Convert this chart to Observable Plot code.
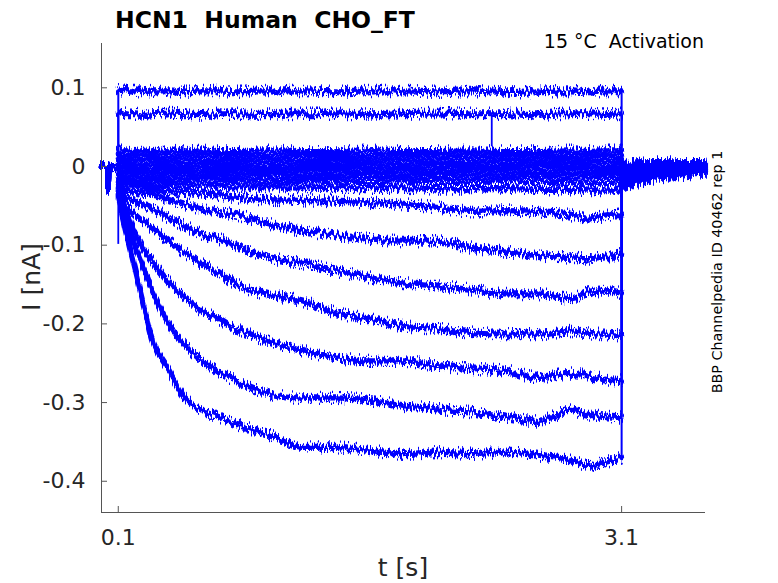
<!DOCTYPE html>
<html>
<head>
<meta charset="utf-8">
<script src="https://cdn.jsdelivr.net/npm/d3@7"></script>
<script src="https://cdn.jsdelivr.net/npm/@observablehq/plot@0.6"></script>
<style>
  html, body { margin: 0; padding: 0; background: #fff; }
  #chart svg { display: block; }
</style>
</head>
<body>
<div id="chart"></div>
<script>
// ---- axes / labels ----
const titleText = "HCN1  Human  CHO_FT";
const cornerText = "15 °C  Activation";
const sideText = "BBP Channelpedia ID 40462 rep 1";
const xLabel = "t [s]";
const yLabel = "I [nA]";
const xTicks = [0.1, 3.1];
const yTicks = [0.1, 0, -0.1, -0.2, -0.3, -0.4];
const xDomain = [0, 3.6];
const yDomain = [-0.4397, 0.1563];

// ---- time bases (s) ----
const preT  = [0, 0.02, 0.036, 0.04, 0.044, 0.07, 0.0999];
const preI  = [0.001, 0.0, -0.001, -0.03, -0.003, 0.0, -0.001];
const stepT = [0.1001, 0.15, 0.2, 0.25, 0.3, 0.4, 0.5, 0.6, 0.7, 0.8, 1.0, 1.2, 1.4, 1.6, 1.8, 2.0, 2.2, 2.4, 2.6, 2.8, 2.9, 3.0, 3.0999];
const tailT = [3.1001, 3.15, 3.25, 3.4, 3.6];

// ---- currents during the step (nA) ----
const p1 = [0.097,0.096,0.096,0.095,0.096,0.096,0.095,0.096,0.096,0.095,0.096,0.096,0.095,0.096,0.096,0.095,0.096,0.094,0.095,0.096,0.095,0.096,0.096];
const p2 = [0.068,0.067,0.067,0.066,0.067,0.068,0.067,0.066,0.067,0.067,0.066,0.067,0.067,0.066,0.067,0.068,0.067,0.067,0.066,0.067,0.067,0.066,0.067];
const c1 = [0.020,0.020,0.019,0.020,0.019,0.020,0.019,0.020,0.019,0.019,0.020,0.019,0.019,0.020,0.019,0.019,0.020,0.019,0.019,0.020,0.019,0.020,0.020];
const c2 = [0.014,0.013,0.013,0.014,0.013,0.013,0.013,0.014,0.013,0.013,0.013,0.014,0.013,0.013,0.013,0.013,0.014,0.013,0.013,0.013,0.013,0.014,0.013];
const c3 = [0.008,0.007,0.007,0.007,0.008,0.007,0.007,0.007,0.006,0.007,0.007,0.007,0.008,0.007,0.007,0.006,0.007,0.007,0.007,0.008,0.007,0.007,0.007];
const c4 = [0.002,0.001,0.001,0.000,0.001,0.001,0.000,0.001,0.001,0.001,0.000,0.001,0.001,0.001,0.000,0.001,0.001,0.000,0.001,0.001,0.001,0.000,0.001];
const c5 = [-0.004,-0.005,-0.005,-0.005,-0.006,-0.005,-0.005,-0.006,-0.005,-0.005,-0.006,-0.005,-0.005,-0.006,-0.005,-0.006,-0.005,-0.005,-0.006,-0.005,-0.006,-0.005,-0.005];
const c6 = [-0.010,-0.011,-0.011,-0.011,-0.012,-0.011,-0.011,-0.012,-0.011,-0.012,-0.011,-0.012,-0.012,-0.011,-0.012,-0.011,-0.012,-0.012,-0.011,-0.012,-0.012,-0.011,-0.012];
const c7 = [-0.016,-0.017,-0.017,-0.018,-0.017,-0.018,-0.018,-0.017,-0.018,-0.018,-0.019,-0.018,-0.018,-0.019,-0.018,-0.019,-0.019,-0.018,-0.019,-0.019,-0.020,-0.019,-0.019];
const c8 = [-0.020,-0.022,-0.023,-0.023,-0.024,-0.024,-0.025,-0.025,-0.025,-0.026,-0.026,-0.026,-0.027,-0.027,-0.027,-0.028,-0.028,-0.028,-0.029,-0.029,-0.030,-0.030,-0.030];
const g  = [-0.024,-0.025,-0.025,-0.027,-0.029,-0.032,-0.033,-0.035,-0.036,-0.039,-0.042,-0.043,-0.044,-0.046,-0.048,-0.052,-0.057,-0.056,-0.057,-0.062,-0.067,-0.063,-0.061];
const f  = [-0.027,-0.032,-0.033,-0.034,-0.035,-0.042,-0.048,-0.054,-0.058,-0.061,-0.073,-0.082,-0.087,-0.092,-0.095,-0.095,-0.103,-0.108,-0.113,-0.116,-0.117,-0.115,-0.111];
const e  = [-0.030,-0.041,-0.044,-0.049,-0.053,-0.065,-0.076,-0.086,-0.092,-0.101,-0.116,-0.123,-0.133,-0.141,-0.148,-0.152,-0.156,-0.162,-0.162,-0.168,-0.160,-0.158,-0.161];
const d  = [-0.034,-0.051,-0.061,-0.070,-0.078,-0.095,-0.110,-0.124,-0.135,-0.149,-0.163,-0.171,-0.186,-0.194,-0.203,-0.206,-0.211,-0.213,-0.213,-0.209,-0.212,-0.213,-0.215];
const c  = [-0.036,-0.058,-0.085,-0.105,-0.119,-0.146,-0.167,-0.184,-0.194,-0.206,-0.222,-0.234,-0.243,-0.247,-0.247,-0.253,-0.257,-0.259,-0.268,-0.263,-0.266,-0.270,-0.272];
const b  = [-0.038,-0.071,-0.102,-0.129,-0.157,-0.200,-0.228,-0.246,-0.262,-0.272,-0.289,-0.294,-0.294,-0.297,-0.304,-0.308,-0.312,-0.318,-0.324,-0.310,-0.315,-0.318,-0.319];
const a  = [-0.040,-0.086,-0.130,-0.175,-0.218,-0.259,-0.295,-0.310,-0.318,-0.327,-0.341,-0.357,-0.357,-0.361,-0.365,-0.363,-0.365,-0.363,-0.367,-0.373,-0.381,-0.376,-0.370];

// ---- tail currents after the step (nA) ----
const tails = [
  [0.004, 0.004, 0.005, 0.005, 0.005],
  [0.002, 0.003, 0.004, 0.004, 0.004],
  [0.000, 0.001, 0.002, 0.003, 0.003],
  [-0.002, -0.001, 0.000, 0.001, 0.002],
  [-0.004, -0.003, -0.001, 0.000, 0.001],
  [-0.006, -0.005, -0.003, -0.001, 0.000],
  [-0.008, -0.006, -0.004, -0.002, -0.001],
  [-0.010, -0.008, -0.005, -0.003, -0.002],
  [-0.012, -0.010, -0.007, -0.004, -0.003],
  [-0.014, -0.011, -0.008, -0.005, -0.004],
  [-0.016, -0.013, -0.009, -0.006, -0.005],
  [-0.018, -0.015, -0.011, -0.007, -0.005],
  [-0.020, -0.017, -0.012, -0.008, -0.006],
  [-0.023, -0.019, -0.014, -0.009, -0.007],
  [-0.025, -0.021, -0.015, -0.010, -0.007],
  [-0.027, -0.022, -0.016, -0.011, -0.008],
  [-0.029, -0.024, -0.017, -0.012, -0.008]
];

// brief transients: [time, from, to]
const transientT    = [0.1, 2.326];
const transientFrom = [-0.002, 0.067];
const transientTo   = [-0.099, 0.025];

const steps = [p1, p2, c1, c2, c3, c4, c5, c6, c7, c8, g, f, e, d, c, b, a];

// build tables: three segments per sweep, joined by thin jump lines
const rows = [];
const jumps = [];
steps.forEach((vals, k) => {
  preT.forEach((t, i) => rows.push({seg: `${k}-pre`, t, i: preI[i]}));
  stepT.forEach((t, i) => rows.push({seg: `${k}-step`, t, i: vals[i]}));
  tailT.forEach((t, i) => rows.push({seg: `${k}-tail`, t, i: tails[k][i]}));
  jumps.push({t: stepT[0], from: preI[preI.length - 1], to: vals[0]});
  jumps.push({t: tailT[0], from: vals[vals.length - 1], to: tails[k][0]});
});
const transients = transientT.map((t, i) => ({t, from: transientFrom[i], to: transientTo[i]}));

const axisColor = "#262626";
const blue = "#0000ff";
const fmt = v => v === 0 ? "0" : String(v);

const svg = Plot.plot({
  width: 778,
  height: 583,
  marginLeft: 101,
  marginRight: 73,
  marginTop: 43,
  marginBottom: 71,
  style: {fontFamily: "DejaVu Sans", background: "#fff", color: axisColor},
  x: {domain: xDomain},
  y: {domain: yDomain},
  marks: [
    Plot.line(rows, {x: "t", y: "i", z: "seg", stroke: blue, strokeWidth: 5.2, curve: "monotone-x"}),
    Plot.line(rows, {x: "t", y: "i", z: "seg", stroke: blue, strokeWidth: 2.4, curve: "monotone-x"}),
    Plot.ruleX(jumps, {x: "t", y1: "from", y2: "to", stroke: blue, strokeWidth: 2}),
    Plot.ruleX(transients, {x: "t", y1: "from", y2: "to", stroke: blue, strokeWidth: 1.8}),
    Plot.ruleX([xDomain[0]], {stroke: "#555", strokeWidth: 1}),
    Plot.ruleY([yDomain[0]], {stroke: "#555", strokeWidth: 1}),
    Plot.axisY({ticks: yTicks, tickFormat: fmt, tickSize: -6, tickPadding: 22, fontSize: 22, stroke: "#555", fill: axisColor, label: null}),
    Plot.axisX({ticks: xTicks, tickFormat: fmt, tickSize: -6, tickPadding: 23, fontSize: 22, stroke: "#555", fill: axisColor, label: null})
  ]
});

// noise-like texture on traces (style only)
const sel = d3.select(svg);
const defs = sel.insert("defs", ":first-child");
function makeFilter(id, freq, octaves, seed, scale) {
  const filt = defs.append("filter").attr("id", id)
    .attr("x", "-2%").attr("y", "-5%").attr("width", "104%").attr("height", "110%")
    .attr("color-interpolation-filters", "sRGB");
  filt.append("feTurbulence").attr("type", "fractalNoise").attr("baseFrequency", freq)
    .attr("numOctaves", octaves).attr("seed", seed).attr("result", "n");
  // keep x shift at zero, stretch the vertical noise contrast
  filt.append("feColorMatrix").attr("in", "n").attr("type", "matrix")
    .attr("values", "0 0 0 0 0.5  0 2.6 0 0 -0.8  0 0 1 0 0  0 0 0 0 1").attr("result", "m");
  filt.append("feDisplacementMap").attr("in", "SourceGraphic").attr("in2", "m")
    .attr("scale", scale).attr("xChannelSelector", "R").attr("yChannelSelector", "G");
}
makeFilter("jitterCore", "0.5 0.02", 2, 5, 6);
makeFilter("jitterSpikes", "0.9 0.04", 2, 17, 12);
const lineGroups = sel.selectAll('g[aria-label="line"]').nodes();
d3.select(lineGroups[0]).attr("filter", "url(#jitterCore)");
d3.select(lineGroups[1]).attr("filter", "url(#jitterSpikes)");

// titles and labels
const addText = (opts, str) => {
  const t = sel.append("text").attr("font-family", "DejaVu Sans").attr("text-anchor", "start");
  Object.entries(opts).forEach(([k, v]) => t.attr(k, v));
  t.text(str);
};
addText({x: 115, y: 28, "font-weight": "bold", "font-size": 23.5, fill: "#000"}, titleText);
addText({x: 704, y: 48, "text-anchor": "end", "font-size": 19, fill: "#000"}, cornerText);
addText({transform: "translate(722,272) rotate(-90)", "text-anchor": "middle", "font-size": 14.3, fill: "#000"}, sideText);
addText({transform: "translate(40,277) rotate(-90)", "text-anchor": "middle", "font-size": 25, fill: axisColor}, yLabel);
addText({x: 403, y: 576, "text-anchor": "middle", "font-size": 25, fill: axisColor}, xLabel);

document.getElementById("chart").appendChild(svg);
</script>
</body>
</html>
